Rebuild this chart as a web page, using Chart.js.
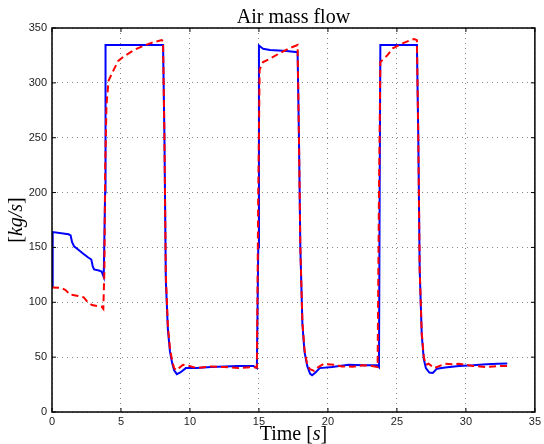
<!DOCTYPE html>
<html>
<head>
<meta charset="utf-8">
<script src="https://cdn.jsdelivr.net/npm/chart.js@4"></script>
<style>
  html, body { margin: 0; padding: 0; background: #fff; }
  #wrap { width: 544px; height: 444px; }
</style>
</head>
<body>
<div id="wrap"><canvas id="flowChart" width="544" height="444"></canvas></div>
<script>
// Measured air mass flow (blue, solid)
const blueTime = [0, 0.05, 1.2, 1.35, 1.45, 1.6, 1.8, 2.2, 2.6, 2.85, 2.95, 3.05, 3.4, 3.6, 3.75, 3.85, 3.88,
    8.05, 8.15, 8.25, 8.4, 8.55, 8.7, 8.85, 9.05, 9.3, 9.7, 10.5, 11.5, 12.5, 13.5, 14.6, 14.85, 14.95,
    15.0, 15.3, 15.8, 17.0, 17.8, 17.9, 18.0, 18.15, 18.3, 18.5, 18.7, 18.85, 19.1, 19.4, 20.3, 21.5,
    22.5, 23.6, 23.7, 23.75, 23.8, 26.45, 26.55, 26.65, 26.8, 26.95, 27.1, 27.35, 27.6, 27.9, 28.5,
    29.5, 30.5, 31.5, 32.3, 33.0];
const blueFlow = [114, 164, 162, 161, 155, 151, 149, 145, 141, 139, 133, 130, 129, 128, 123, 200, 334.5,
    334.5, 250, 120, 75, 55, 45, 38, 34.5, 36, 40, 40, 41, 41.5, 42, 42, 40, 150,
    334, 331, 330, 329, 328, 250, 150, 80, 55, 42, 35, 33.5, 36, 40, 41, 43,
    42.5, 42.5, 41, 200, 334.5, 334.5, 250, 130, 70, 48, 40, 36, 35.5, 39.5, 40.5,
    42, 42.5, 43.5, 44, 44.2];

// Estimated air mass flow (red, dashed)
const redTime = [0, 0.7, 1.0, 1.3, 1.8, 2.3, 2.6, 2.9, 3.3, 3.6, 3.72, 3.8, 3.85, 3.95, 4.1, 4.4,
    4.8, 5.2, 5.7, 6.2, 6.7, 7.1, 7.5, 7.95, 8.05, 8.15, 8.25, 8.4, 8.55, 8.7, 8.85, 9.0, 9.2, 9.5,
    9.8, 10.5, 11.5, 12.5, 13.5, 14.5, 14.85, 14.95, 15.05, 15.3, 15.8, 16.5, 17.2, 17.8, 17.9, 18.0,
    18.15, 18.3, 18.5, 18.7, 19.0, 19.3, 19.7, 20.5, 21.0, 21.8, 22.5, 23.2, 23.6, 23.7, 23.8, 24.3,
    24.7, 25.4, 25.9, 26.25, 26.45, 26.55, 26.65, 26.8, 26.95, 27.1, 27.3, 27.7, 28.1, 28.5, 29.0,
    29.5, 30.0, 30.5, 31.0, 31.5, 32.0, 32.5, 33.0];
const redFlow = [113.5, 113, 111, 107, 106, 104.5, 100, 97.5, 96.5, 96, 94, 130, 220, 280, 302, 310,
    320, 324, 328, 331.5, 334, 336, 337.5, 339, 338, 250, 125, 78, 58, 47, 40, 38, 40, 43,
    42.5, 40, 41.5, 41, 40, 41, 40.5, 200, 312, 319, 322, 327, 331.5, 334.5, 250, 150,
    82, 57, 43, 39, 37.5, 41, 43.8, 43, 41.5, 41.3, 42.5, 42, 41, 200, 319, 325,
    331.5, 336, 338.5, 340, 339, 250, 130, 72, 50, 43, 44, 40, 42, 44, 43.5,
    44, 43, 42, 41.5, 41, 41.5, 42, 42];

const xTicks = [0, 5, 10, 15, 20, 25, 30, 35];
const yTicks = [0, 50, 100, 150, 200, 250, 300, 350];

const toPoints = (ts, vs) => ts.map((t, i) => ({ x: t, y: vs[i] }));

// Frame, inward ticks, title and axis labels in a MATLAB-like style
const framePlugin = {
    id: 'frame',
    afterDraw(chart) {
        const { ctx, chartArea: a, scales } = chart;
        ctx.save();
        ctx.strokeStyle = '#000';
        ctx.lineWidth = 1.5;
        ctx.strokeRect(a.left, a.top, a.right - a.left, a.bottom - a.top);
        ctx.lineWidth = 1;
        xTicks.forEach(v => {
            const px = scales.x.getPixelForValue(v);
            ctx.beginPath();
            ctx.moveTo(px, a.bottom); ctx.lineTo(px, a.bottom - 4);
            ctx.moveTo(px, a.top); ctx.lineTo(px, a.top + 4);
            ctx.stroke();
        });
        yTicks.forEach(v => {
            const py = scales.y.getPixelForValue(v);
            ctx.beginPath();
            ctx.moveTo(a.left, py); ctx.lineTo(a.left + 4, py);
            ctx.moveTo(a.right, py); ctx.lineTo(a.right - 4, py);
            ctx.stroke();
        });

        const cx = (a.left + a.right) / 2;
        ctx.fillStyle = '#000';
        ctx.textAlign = 'center';
        ctx.textBaseline = 'alphabetic';
        ctx.font = '20px "Liberation Serif"';
        ctx.fillText('Air mass flow', cx, 23);

        // x label: Time [s] with italic s
        const up = '20px "Liberation Serif"';
        const it = 'italic 20px "Liberation Serif"';
        const parts = [['Time [', up], ['s', it], [']', up]];
        let total = 0;
        parts.forEach(([t, f]) => { ctx.font = f; total += ctx.measureText(t).width; });
        let x = cx - total / 2;
        ctx.textAlign = 'left';
        parts.forEach(([t, f]) => { ctx.font = f; ctx.fillText(t, x, 440); x += ctx.measureText(t).width; });

        // y label: [kg/s] rotated
        const yParts = [['[', up], ['kg/s', it], [']', up]];
        total = 0;
        yParts.forEach(([t, f]) => { ctx.font = f; total += ctx.measureText(t).width; });
        ctx.translate(22, (a.top + a.bottom) / 2);
        ctx.rotate(-Math.PI / 2);
        x = -total / 2;
        yParts.forEach(([t, f]) => { ctx.font = f; ctx.fillText(t, x, 0); x += ctx.measureText(t).width; });
        ctx.restore();
    }
};

const ctx = document.getElementById('flowChart').getContext('2d');
const flowChart = new Chart(ctx, {
    type: 'scatter',
    data: {
        datasets: [
            {
                label: 'Measured',
                data: toPoints(blueTime, blueFlow),
                showLine: true,
                borderColor: '#0000ff',
                borderWidth: 2,
                pointRadius: 0,
                order: 2,
            },
            {
                label: 'Estimated',
                data: toPoints(redTime, redFlow),
                showLine: true,
                borderColor: '#ff0000',
                borderWidth: 2,
                borderDash: [7, 4],
                pointRadius: 0,
                order: 1,
            },
        ],
    },
    options: {
        responsive: false,
        animation: false,
        layout: { padding: { top: 28, right: 8, left: 0, bottom: 0 } },
        plugins: {
            legend: { display: false },
            title: { display: false },
            tooltip: { enabled: false },
        },
        scales: {
            x: {
                type: 'linear',
                min: 0,
                max: 35,
                afterBuildTicks: s => { s.ticks = xTicks.map(v => ({ value: v })); },
                afterFit: s => { s.height = 32; },
                ticks: {
                    color: '#222',
                    font: { family: 'Liberation Sans', size: 11 },
                    maxRotation: 0,
                    padding: 3,
                },
                grid: { color: '#888', lineWidth: 1, drawTicks: false },
                border: { display: false, dash: [1, 4] },
            },
            y: {
                min: 0,
                max: 350,
                afterBuildTicks: s => { s.ticks = yTicks.map(v => ({ value: v })); },
                afterFit: s => { s.width = 52; },
                ticks: {
                    color: '#222',
                    font: { family: 'Liberation Sans', size: 11 },
                    padding: 5,
                },
                grid: { color: '#888', lineWidth: 1, drawTicks: false },
                border: { display: false, dash: [1, 4] },
            },
        },
    },
    plugins: [framePlugin],
});
</script>
</body>
</html>
